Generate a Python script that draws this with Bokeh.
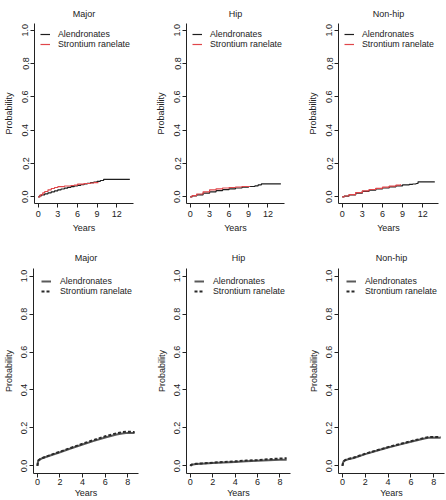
from bokeh.plotting import figure
from bokeh.layouts import column, row
from bokeh.models import FixedTicker
from bokeh.embed import file_html
from bokeh.resources import INLINE

# ---------------- data ----------------
titles = ["Major", "Hip", "Non-hip"]
series_names = ["Alendronates", "Strontium ranelate"]
y_ticks = [0.0, 0.2, 0.4, 0.6, 0.8, 1.0]
y_tick_labels = ["0.0", "0.2", "0.4", "0.6", "0.8", "1.0"]
top_x_ticks = [0, 3, 6, 9, 12]
bottom_x_ticks = [0, 2, 4, 6, 8]

# Top row: observed cumulative incidence (step curves)
major_aln_t = [0, 0.2, 0.5, 1, 1.5, 2, 2.5, 3, 3.5, 4, 4.5, 5, 5.5, 6, 6.5, 7, 7.5, 8, 8.5, 9, 9.5, 10, 14]
major_aln_p = [0, 0.006, 0.012, 0.018, 0.024, 0.03, 0.036, 0.042, 0.047, 0.052, 0.057, 0.061, 0.065, 0.069, 0.073, 0.077, 0.081, 0.085, 0.089, 0.093, 0.098, 0.105, 0.105]
major_str_t = [0, 0.3, 0.7, 1, 1.5, 2, 2.5, 3, 4, 5, 5.5, 6, 7, 8, 8.5, 9.2]
major_str_p = [0, 0.012, 0.024, 0.032, 0.042, 0.05, 0.056, 0.061, 0.065, 0.068, 0.07, 0.076, 0.08, 0.083, 0.085, 0.085]

hip_aln_t = [0, 0.3, 1, 2, 3, 4, 5, 6, 7, 8, 9, 10, 10.5, 11, 14]
hip_aln_p = [0, 0.005, 0.012, 0.022, 0.03, 0.037, 0.043, 0.048, 0.053, 0.058, 0.062, 0.066, 0.072, 0.078, 0.078]
hip_str_t = [0, 0.3, 1, 2, 3, 4, 5, 6, 7, 8, 9.2]
hip_str_p = [0, 0.007, 0.017, 0.03, 0.042, 0.048, 0.053, 0.056, 0.059, 0.062, 0.064]

nonhip_aln_t = [0, 0.3, 1, 2, 3, 4, 5, 6, 7, 8, 9, 10, 10.5, 11, 11.3, 13.8]
nonhip_aln_p = [0, 0.004, 0.011, 0.022, 0.033, 0.04, 0.047, 0.053, 0.06, 0.066, 0.072, 0.075, 0.077, 0.08, 0.09, 0.09]
nonhip_str_t = [0, 0.3, 1, 2, 3, 4, 5, 6, 7, 8, 8.7]
nonhip_str_p = [0, 0.005, 0.013, 0.025, 0.036, 0.044, 0.051, 0.058, 0.064, 0.07, 0.075]

# Bottom row: modelled cumulative incidence (smooth curves)
model_t = [0, 0.05, 0.1, 0.25, 0.5, 1, 2, 3, 4, 5, 6, 7, 7.5, 8, 8.6]
major_aln_m = [0, 0.02, 0.03, 0.035, 0.042, 0.052, 0.072, 0.093, 0.113, 0.132, 0.15, 0.165, 0.171, 0.174, 0.173]
major_str_m = [0, 0.02, 0.03, 0.036, 0.043, 0.054, 0.075, 0.096, 0.117, 0.137, 0.156, 0.172, 0.178, 0.18, 0.179]
hip_aln_m = [0, 0.004, 0.006, 0.008, 0.01, 0.012, 0.015, 0.018, 0.021, 0.024, 0.027, 0.03, 0.031, 0.032, 0.033]
hip_str_m = [0, 0.004, 0.006, 0.009, 0.011, 0.013, 0.017, 0.021, 0.024, 0.028, 0.031, 0.035, 0.037, 0.039, 0.04]
nonhip_aln_m = [0, 0.015, 0.024, 0.03, 0.035, 0.042, 0.062, 0.08, 0.097, 0.112, 0.127, 0.142, 0.148, 0.15, 0.148]
nonhip_str_m = [0, 0.015, 0.025, 0.031, 0.036, 0.044, 0.064, 0.082, 0.099, 0.115, 0.13, 0.145, 0.151, 0.153, 0.151]

top_data = [
    (major_aln_t, major_aln_p, major_str_t, major_str_p),
    (hip_aln_t, hip_aln_p, hip_str_t, hip_str_p),
    (nonhip_aln_t, nonhip_aln_p, nonhip_str_t, nonhip_str_p),
]
bottom_data = [
    (major_aln_m, major_str_m),
    (hip_aln_m, hip_str_m),
    (nonhip_aln_m, nonhip_str_m),
]

# ---------------- styling ----------------
FONT = "Liberation Sans"
TXT = "#222222"
FS = "9px"


def style(p, xticks, tick_std, xlab_std, ylab_std, title_std):
    p.title.text_font = FONT
    p.title.text_font_size = FS
    p.title.text_font_style = "normal"
    p.title.text_color = TXT
    p.title.align = "center"
    p.title.standoff = title_std
    p.grid.visible = False
    p.outline_line_color = None
    for ax in (p.xaxis[0], p.yaxis[0]):
        ax.axis_line_color = TXT
        ax.axis_line_width = 1
        ax.major_tick_line_color = TXT
        ax.major_tick_in = 0
        ax.major_tick_out = 4
        ax.minor_tick_line_color = None
        ax.major_label_text_font = FONT
        ax.major_label_text_font_size = FS
        ax.major_label_text_color = TXT
        ax.axis_label_text_font = FONT
        ax.axis_label_text_font_size = FS
        ax.axis_label_text_font_style = "normal"
        ax.axis_label_text_color = TXT
        ax.major_label_standoff = tick_std
    p.xaxis[0].ticker = FixedTicker(ticks=xticks)
    p.xaxis[0].axis_label = "Years"
    p.xaxis[0].axis_label_standoff = xlab_std
    p.yaxis[0].ticker = FixedTicker(ticks=y_ticks)
    p.yaxis[0].major_label_overrides = {t: l for t, l in zip(y_ticks, y_tick_labels)}
    p.yaxis[0].major_label_orientation = "vertical"
    p.yaxis[0].major_label_standoff = 2
    p.yaxis[0].axis_label = "Probability"
    p.yaxis[0].axis_label_standoff = ylab_std


def style_legend(p, margin, standoff):
    lg = p.legend[0]
    lg.location = "top_left"
    lg.border_line_color = None
    lg.background_fill_alpha = 0
    lg.padding = 0
    lg.spacing = 0
    lg.margin = margin
    lg.glyph_width = 10
    lg.glyph_height = 8
    lg.label_height = 8
    lg.label_standoff = standoff
    lg.label_text_font = FONT
    lg.label_text_font_size = "8.8px"
    lg.label_text_color = TXT


top_widths = [152, 152, 142]
top_lefts = [34, 33, 34]
top_rights = [19, 20, 8]
top_figs = []
for i in range(3):
    at, ap, st, sp = top_data[i]
    xmax = max(max(at), max(st))
    p = figure(width=top_widths[i], height=238, title=titles[i],
               x_range=(-0.04 * xmax, 1.04 * xmax), y_range=(-0.04, 1.04),
               output_backend="svg", toolbar_location=None,
               min_border_left=top_lefts[i], min_border_right=top_rights[i],
               min_border_top=23, min_border_bottom=35)
    p.step(at, ap, mode="after", line_color="#1e1e1e", line_width=1.2,
           legend_label=series_names[0])
    p.step(st, sp, mode="after", line_color="#e0464a", line_width=1.2,
           legend_label=series_names[1])
    style(p, top_x_ticks, 3, 3, 6, 10)
    style_legend(p, 6, 8)
    top_figs.append(p)

bot_widths = [153, 152, 141]
bot_lefts = [31, 32, 33]
bot_rights = [15, 15, 2]
bot_figs = []
for i in range(3):
    am, sm = bottom_data[i]
    xmax = max(model_t)
    p = figure(width=bot_widths[i], height=262, title=titles[i],
               x_range=(-0.04 * xmax, 1.04 * xmax), y_range=(-0.04, 1.04),
               output_backend="svg", toolbar_location=None,
               min_border_left=bot_lefts[i], min_border_right=bot_rights[i],
               min_border_top=30, min_border_bottom=25)
    p.line(model_t, am, line_color="#5a5a5a", line_width=2,
           legend_label=series_names[0])
    p.line(model_t, sm, line_color="#2a2a2a", line_width=2, line_dash="3 2",
           legend_label=series_names[1])
    style(p, bottom_x_ticks, 1, 0, 5, 12)
    style_legend(p, 8, 9)
    bot_figs.append(p)

layout = column(row(*top_figs, spacing=0), row(*bot_figs, spacing=0), spacing=0)
open("out.html", "w").write(file_html(layout, INLINE))
